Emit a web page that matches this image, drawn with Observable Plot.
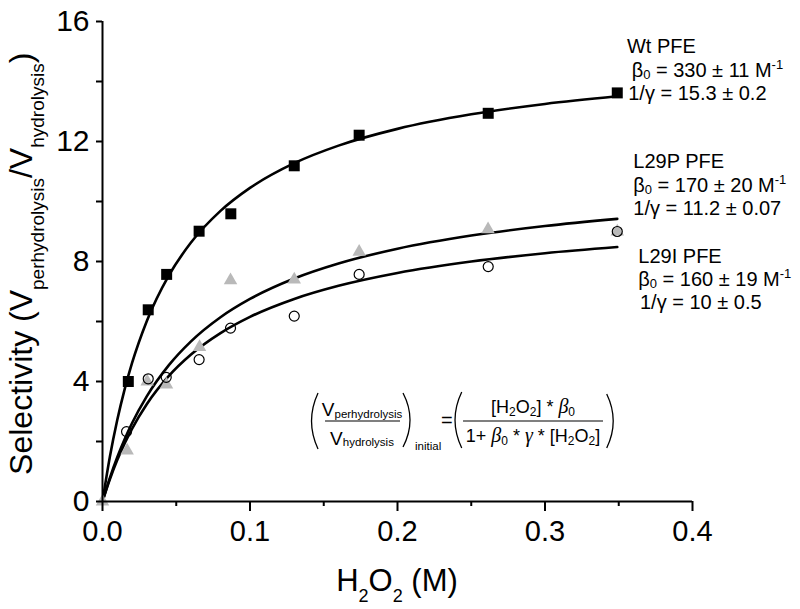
<!DOCTYPE html>
<html><head><meta charset="utf-8">
<script src="https://cdn.jsdelivr.net/npm/d3@7"></script>
<script src="https://cdn.jsdelivr.net/npm/@observablehq/plot@0.6"></script>
<style>body{margin:0;background:#fff} svg{display:block}</style>
</head><body><div id="chart"></div>
<script>
// ---- measured data ----
const wtX   = [0.0175, 0.031, 0.0435, 0.0655, 0.087, 0.130, 0.174, 0.2615, 0.349];
const wtY   = [4.0, 6.39, 7.57, 9.01, 9.59, 11.19, 12.21, 12.94, 13.62];
const l29pX = [0, 0.0167, 0.0303, 0.0434, 0.0658, 0.0868, 0.130, 0.174, 0.2614, 0.349];
const l29pY = [0, 1.70, 4.00, 3.90, 5.15, 7.37, 7.40, 8.32, 9.07, 9.0];
const l29iX = [0.0163, 0.031, 0.0432, 0.0655, 0.0868, 0.130, 0.174, 0.2615, 0.349];
const l29iY = [2.33, 4.09, 4.14, 4.73, 5.78, 6.18, 7.57, 7.83, 9.0];

// fitted curves (values read for the stated fit parameters)
const fitX    = [0, 0.005, 0.01, 0.015, 0.02, 0.03, 0.045, 0.06, 0.08, 0.1, 0.13, 0.16, 0.2, 0.25, 0.3, 0.349];
const wtFit   = [0, 1.489, 2.715, 3.740, 4.611, 6.011, 7.536, 8.631, 9.686, 10.453, 11.278, 11.863, 12.421, 12.906, 13.252, 13.506];
const l29pFit = [0, 0.790, 1.476, 2.077, 2.608, 3.504, 4.545, 5.338, 6.142, 6.752, 7.433, 7.933, 8.425, 8.864, 9.183, 9.421];
const l29iFit = [0, 0.741, 1.379, 1.935, 2.424, 3.243, 4.186, 4.898, 5.614, 6.154, 6.753, 7.191, 7.619, 8.000, 8.276, 8.481];

const xMajor = [0, 0.1, 0.2, 0.3, 0.4];
const xMinor = [0.05, 0.15, 0.25, 0.35];
const yMajor = [0, 4, 8, 12, 16];
const yMinor = [2, 6, 10, 14];

// annotation text
const annNames = ["Wt PFE", "L29P PFE", "L29I PFE"];
const annBeta  = ["330 \u00b1 11", "170 \u00b1 20", "160 \u00b1 19"];
const annGamma = ["15.3 \u00b1 0.2", "11.2 \u00b1 0.07", "10 \u00b1 0.5"];
const annX = [0.3559, 0.3602, 0.3636];
const annY = [14.92, 11.09, 7.943];

const rows = (xs, ys) => xs.map((x, i) => ({x, y: ys[i]}));
const FONT = "'Liberation Sans', Arial, Helvetica, sans-serif";

const chart = Plot.plot({
  width: 800, height: 609,
  marginLeft: 102, marginRight: 108, marginTop: 21, marginBottom: 108,
  style: {fontFamily: FONT, background: "white", color: "black", overflow: "visible"},
  x: {domain: [0, 0.4]},
  y: {domain: [0, 16]},
  marks: [
    Plot.line(rows(fitX, wtFit),   {x: "x", y: "y", curve: "monotone-x", stroke: "black", strokeWidth: 2.6}),
    Plot.line(rows(fitX, l29pFit), {x: "x", y: "y", curve: "monotone-x", stroke: "black", strokeWidth: 2.6}),
    Plot.line(rows(fitX, l29iFit), {x: "x", y: "y", curve: "monotone-x", stroke: "black", strokeWidth: 2.6}),
    Plot.dot(rows(l29pX, l29pY), {x: "x", y: "y", symbol: "triangle", r: 5, fill: "#b9b9b9", stroke: "none"}),
    Plot.dot(rows(wtX, wtY), {x: "x", y: "y", symbol: "square", r: 6.2, fill: "black", stroke: "none"}),
    Plot.dot(rows(l29iX, l29iY), {x: "x", y: "y", symbol: "circle", r: 5, fill: "none", stroke: "black", strokeWidth: 1.2}),
    Plot.ruleX([0], {stroke: "black", strokeWidth: 2}),
    Plot.ruleY([0], {stroke: "black", strokeWidth: 2}),
    Plot.axisX({ticks: xMajor, tickSize: 10, tickPadding: 9, tickFormat: d => d.toFixed(1), fontSize: 29, strokeWidth: 2, label: null}),
    Plot.axisX({ticks: xMinor, tickSize: 5, tickFormat: () => "", strokeWidth: 2, label: null}),
    Plot.axisY({ticks: yMajor, tickSize: 6, tickPadding: 7, fontSize: 30, strokeWidth: 2, label: null}),
    Plot.axisY({ticks: yMinor, tickSize: 6, tickFormat: () => "", strokeWidth: 2, label: null})
  ]
});
document.getElementById("chart").appendChild(chart);

const sx = chart.scale("x"), sy = chart.scale("y");
const svg = d3.select(chart);

// rich text helper: parts = [{t, size, shift, italic, family}]
function rich(parent, x, y, size, parts, anchor = "start", family = FONT) {
  const t = parent.append("text").attr("x", x).attr("y", y)
    .attr("font-family", family).attr("font-size", size)
    .attr("text-anchor", anchor).attr("fill", "black");
  let cur = 0;
  for (const p of parts) {
    const s = t.append("tspan").text(p.t);
    const target = p.shift || 0;
    if (target !== cur) { s.attr("dy", target - cur); cur = target; }
    if (p.size) s.attr("font-size", p.size);
    if (p.italic) s.attr("font-style", "italic");
    if (p.family) s.attr("font-family", p.family);
  }
  return t;
}

// axis titles
const xr = sx.range;
rich(svg, (xr[0] + xr[1]) / 2, 591, 31, [
  {t: "H"}, {t: "2", size: 18, shift: 11}, {t: "O"}, {t: "2", size: 18, shift: 11}, {t: " (M)"}
], "middle");

const yt = svg.append("g").attr("transform", `translate(32,${sy.apply(0.87)}) rotate(-90)`);
rich(yt, 0, 0, 32, [
  {t: "Selectivity (V"}, {t: "perhydrolysis", size: 19, shift: 12}, {t: "/V"},
  {t: "hydrolysis", size: 19, shift: 12}, {t: ")"}
], "start");

// fit annotations
const indents = [[0, 4.7, 1.3], [0, 0, 0], [0, 0, 1.7]];
annNames.forEach((name, i) => {
  const x0 = sx.apply(annX[i]), y0 = sy.apply(annY[i]);
  const g = svg.append("g").attr("transform", `translate(${x0},${y0})`);
  rich(g, indents[i][0], 0, 20, [{t: name}]);
  rich(g, indents[i][1], 23.4, 20, [
    {t: "\u03b2"}, {t: "0", size: 13, shift: 2}, {t: " = " + annBeta[i] + " M"}, {t: "-1", size: 13, shift: -8}
  ]);
  rich(g, indents[i][2], 46.6, 20, [{t: "1/\u03b3 = " + annGamma[i]}]);
});

// equation
const eq = svg.append("g").attr("transform", `translate(${sx.apply(0.1512)},${sy.apply(2.667)})`);
const paren = (x0, xc, top, bot) => eq.append("path")
  .attr("d", `M${x0},${top} Q${xc},${(top + bot) / 2} ${x0},${bot}`)
  .attr("fill", "none").attr("stroke", "black").attr("stroke-width", 1.3);
paren(-7, -20, -28, 28);
paren(78, 92, -28, 26);
paren(136.7, 123.3, -29, 27);
paren(281.7, 294.7, -27, 27);
eq.append("line").attr("x1", 0).attr("x2", 75).attr("y1", 0).attr("y2", 0).attr("stroke", "black").attr("stroke-width", 1.1);
eq.append("line").attr("x1", 138).attr("x2", 278).attr("y1", 0).attr("y2", 0).attr("stroke", "black").attr("stroke-width", 1.1);
const GREEK = "'Liberation Serif', 'DejaVu Serif', serif";
rich(eq, 37, -4.5, 19, [{t: "V"}, {t: "perhydrolysis", size: 11.5, shift: 1.5}], "middle");
rich(eq, 37, 24, 19, [{t: "V"}, {t: "hydrolysis", size: 11.5, shift: 1.5}], "middle");
rich(eq, 90, 29, 11.5, [{t: "initial"}]);
rich(eq, 116, 6.5, 20, [{t: "="}]);
rich(eq, 208, -7.7, 18, [
  {t: "[H"}, {t: "2", size: 12, shift: 3}, {t: "O"}, {t: "2", size: 12, shift: 3}, {t: "] * "},
  {t: "\u03b2", italic: true, family: GREEK, size: 20}, {t: "0", size: 12, shift: 3}
], "middle");
rich(eq, 208, 20.7, 18, [
  {t: "1+ "}, {t: "\u03b2", italic: true, family: GREEK, size: 20}, {t: "0", size: 12, shift: 3},
  {t: " * "}, {t: "\u03b3", italic: true, family: GREEK, size: 20}, {t: " * [H"},
  {t: "2", size: 12, shift: 3}, {t: "O"}, {t: "2", size: 12, shift: 3}, {t: "]"}
], "middle");
</script>
</body></html>
